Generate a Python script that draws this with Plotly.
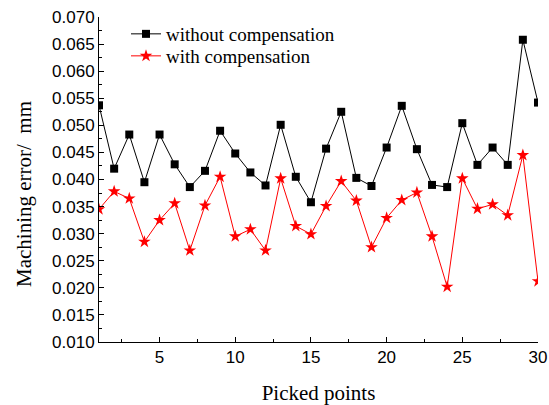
import plotly.graph_objects as go

points = list(range(1, 31))
without_comp = [0.0537, 0.0420, 0.0483, 0.0395, 0.0483, 0.0428, 0.0386, 0.0416, 0.0490, 0.0448,
                0.0413, 0.0389, 0.0501, 0.0405, 0.0358, 0.0457, 0.0525, 0.0403, 0.0388, 0.0459,
                0.0536, 0.0456, 0.0390, 0.0386, 0.0504, 0.0427, 0.0459, 0.0427, 0.0658, 0.0542]
with_comp = [0.0345, 0.0378, 0.0365, 0.0285, 0.0325, 0.0356, 0.0269, 0.0352, 0.0405, 0.0295,
             0.0308, 0.0269, 0.0402, 0.0314, 0.0299, 0.0351, 0.0397, 0.0361, 0.0275, 0.0329,
             0.0362, 0.0376, 0.0295, 0.0202, 0.0402, 0.0346, 0.0354, 0.0334, 0.0445, 0.0212]
x_ticks = [5, 10, 15, 20, 25, 30]
y_ticks = [0.010, 0.015, 0.020, 0.025, 0.030, 0.035, 0.040, 0.045, 0.050, 0.055, 0.060, 0.065, 0.070]

serif = "Liberation Serif, Times New Roman, serif"
sans = "Liberation Sans, Arial, sans-serif"

PL, PR, PT, PB = 99, 538, 17, 342
PW, PH = PR - PL, PB - PT

fig = go.Figure()
fig.add_trace(go.Scatter(
    x=points, y=without_comp, mode="lines+markers", name="without compensation",
    line=dict(color="black", width=1),
    marker=dict(symbol="square", size=8, color="black"),
    legend="legend",
))
fig.add_trace(go.Scatter(
    x=points, y=with_comp, mode="lines+markers", name="with compensation",
    line=dict(color="red", width=1),
    marker=dict(symbol="star", size=9.5, color="red", line=dict(width=0)),
    legend="legend2",
))

leg_common = dict(xanchor="left", yanchor="middle",
                  font=dict(family=serif, size=19, color="black"),
                  bgcolor="rgba(0,0,0,0)", borderwidth=0, itemwidth=30)

fig.update_layout(
    width=549, height=405,
    margin=dict(l=PL, r=549 - PR, t=PT, b=405 - PB, autoexpand=False),
    paper_bgcolor="white", plot_bgcolor="white",
    showlegend=True,
    legend=dict(x=(126 - PL) / PW, y=(PB - 34) / PH, **leg_common),
    legend2=dict(x=(126 - PL) / PW, y=(PB - 56) / PH, **leg_common),
    xaxis=dict(
        range=[1, 30], tickvals=x_ticks, ticktext=[str(v) for v in x_ticks],
        showline=True, linecolor="black", linewidth=1, mirror=False,
        ticks="inside", ticklen=5, tickcolor="black", tickwidth=1,
        minor=dict(dtick=2.5, tick0=0, ticks="inside", ticklen=3, tickcolor="black"),
        showgrid=False, zeroline=False, automargin=False,
        tickfont=dict(family=sans, size=17, color="black"),
        title=dict(text="Picked points", font=dict(family=serif, size=21, color="black"), standoff=19),
    ),
    yaxis=dict(
        range=[0.010, 0.070], tickvals=y_ticks, ticktext=["%.3f" % v for v in y_ticks],
        showline=True, linecolor="black", linewidth=1, mirror=False,
        ticks="inside", ticklen=5, tickcolor="black", tickwidth=1,
        minor=dict(dtick=0.0025, tick0=0.0, ticks="inside", ticklen=3, tickcolor="black"),
        showgrid=False, zeroline=False, automargin=False,
        tickfont=dict(family=sans, size=17, color="black"),
    ),
    annotations=[dict(
        text="Machining error/\u00a0\u00a0mm", textangle=-90,
        xref="paper", yref="paper", x=(24 - PL) / PW, y=(PB - 194) / PH,
        xanchor="center", yanchor="middle", showarrow=False,
        font=dict(family=serif, size=21, color="black"),
    )],
)

fig.write_html("out.html")
